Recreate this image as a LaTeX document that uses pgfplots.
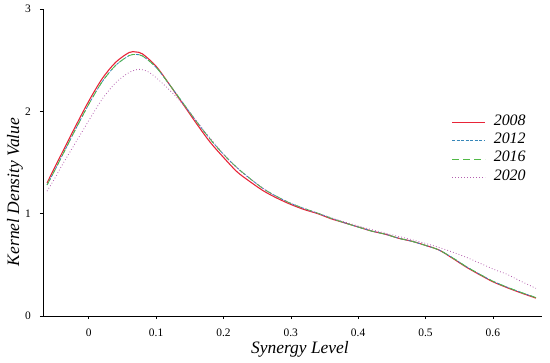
\documentclass[border=0pt]{standalone}
\usepackage{pgfplots}
\pgfplotsset{compat=1.18}
\usepackage{fontspec}
\setmainfont{Liberation Serif}
\usetikzlibrary{calc}
\definecolor{c08}{RGB}{232,36,56}
\definecolor{c12}{RGB}{55,135,185}
\definecolor{c16}{RGB}{80,185,70}
\definecolor{c20}{RGB}{180,95,175}
\begin{document}
\begin{tikzpicture}
\begin{axis}[
  scale only axis, width=499bp, height=307bp,
  xmin=-0.068, xmax=0.673, ymin=0, ymax=3,
  axis x line=bottom, axis y line=left,
  axis line style={-, line width=0.8pt},
  tick align=outside, major tick length=3bp,
  tick style={line width=0.6pt, black},
  xtick={0,0.1,0.2,0.3,0.4,0.5,0.6},
  xticklabels={0,0.1,0.2,0.3,0.4,0.5,0.6},
  ytick={0,1,2,3},
  /pgf/number format/assume math mode=true,
  ticklabel style={font=\fontsize{11.5}{13}\selectfont},
  yticklabel style={anchor=east, inner sep=0pt},
  yticklabel shift=9bp,
  xticklabel style={anchor=north, inner sep=0pt},
  xticklabel shift=10bp,
  xlabel={\textit{Synergy Level}},
  ylabel={\textit{Kernel Density Value}},
  label style={font=\fontsize{17.5}{19}\selectfont},
  xlabel style={at={(axis description cs:0.515,-0.107)}, anchor=center},
  ylabel style={at={(axis description cs:-0.056,0.404)}, anchor=center},
  legend style={at={(axis description cs:0.8186,0.6612)}, anchor=north west, draw=none, fill=none,
    font=\fontsize{16}{18}\selectfont\itshape, row sep=0pt, inner sep=0pt,
    nodes={inner sep=0pt, text height=12bp, text depth=6.3bp},
    /tikz/every odd column/.append style={column sep=8bp}},
  legend cell align=left,
  legend image code/.code={\draw[#1] (0bp,0bp) -- (33bp,0bp);},
  clip=false,
]
\addplot[color=c08, line width=1.1pt, smooth] coordinates {
(-0.062,1.30) (-0.05,1.46) (-0.04,1.59) (-0.02,1.85) (0,2.10) (0.02,2.32) (0.04,2.48) (0.06,2.575) (0.07,2.58) (0.08,2.56) (0.10,2.44) (0.12,2.26) (0.14,2.07) (0.16,1.88) (0.18,1.70) (0.20,1.55) (0.22,1.41) (0.24,1.31) (0.26,1.22) (0.28,1.15) (0.30,1.09) (0.32,1.04) (0.34,1.00) (0.36,0.95) (0.38,0.91) (0.40,0.87) (0.42,0.83) (0.44,0.80) (0.46,0.76) (0.48,0.73) (0.50,0.69) (0.52,0.645) (0.54,0.565) (0.56,0.48) (0.58,0.405) (0.60,0.335) (0.62,0.28) (0.64,0.23) (0.664,0.175)};
\addlegendentry{2008}
\addplot[color=c12, line width=0.8pt, smooth, dash pattern=on 3bp off 1.5bp] coordinates {
(-0.062,1.28) (-0.05,1.43) (-0.04,1.56) (-0.02,1.82) (0,2.07) (0.02,2.29) (0.04,2.45) (0.06,2.545) (0.07,2.555) (0.08,2.54) (0.10,2.43) (0.12,2.26) (0.14,2.08) (0.16,1.90) (0.18,1.73) (0.20,1.58) (0.22,1.45) (0.24,1.34) (0.26,1.24) (0.28,1.165) (0.30,1.10) (0.32,1.05) (0.34,1.005) (0.36,0.955) (0.38,0.91) (0.40,0.87) (0.42,0.83) (0.44,0.80) (0.46,0.76) (0.48,0.73) (0.50,0.69) (0.52,0.645) (0.54,0.57) (0.56,0.485) (0.58,0.41) (0.60,0.34) (0.62,0.285) (0.64,0.235) (0.664,0.18)};
\addlegendentry{2012}
\addplot[color=c16, line width=0.8pt, smooth, dash pattern=on 7bp off 4bp] coordinates {
(-0.062,1.28) (-0.05,1.43) (-0.04,1.56) (-0.02,1.82) (0,2.07) (0.02,2.29) (0.04,2.45) (0.06,2.545) (0.07,2.555) (0.08,2.54) (0.10,2.43) (0.12,2.26) (0.14,2.08) (0.16,1.90) (0.18,1.73) (0.20,1.58) (0.22,1.45) (0.24,1.34) (0.26,1.24) (0.28,1.165) (0.30,1.10) (0.32,1.05) (0.34,1.005) (0.36,0.955) (0.38,0.91) (0.40,0.87) (0.42,0.83) (0.44,0.80) (0.46,0.76) (0.48,0.73) (0.50,0.69) (0.52,0.645) (0.54,0.57) (0.56,0.485) (0.58,0.41) (0.60,0.34) (0.62,0.285) (0.64,0.235) (0.664,0.18)};
\addlegendentry{2016}
\addplot[color=c20, line width=0.8pt, smooth, dash pattern=on 0.8bp off 2.2bp] coordinates {
(-0.062,1.22) (-0.05,1.35) (-0.04,1.47) (-0.02,1.69) (0,1.91) (0.02,2.12) (0.04,2.28) (0.06,2.38) (0.075,2.41) (0.09,2.38) (0.11,2.27) (0.13,2.14) (0.15,1.99) (0.17,1.82) (0.19,1.66) (0.21,1.51) (0.23,1.39) (0.25,1.29) (0.27,1.20) (0.29,1.13) (0.32,1.05) (0.36,0.96) (0.40,0.88) (0.44,0.81) (0.48,0.745) (0.52,0.67) (0.56,0.575) (0.60,0.46) (0.62,0.41) (0.64,0.345) (0.664,0.27)};
\addlegendentry{2020}
\end{axis}
\path ($(current axis.south west)+(-43bp,-47bp)$) rectangle ($(current axis.north east)+(8bp,9bp)$);
\end{tikzpicture}
\end{document}
